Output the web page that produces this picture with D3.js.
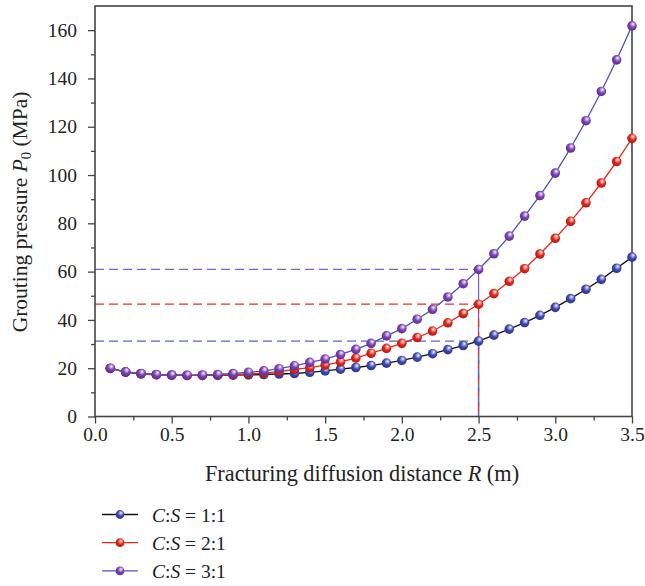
<!DOCTYPE html>
<html><head><meta charset="utf-8">
<script src="https://cdn.jsdelivr.net/npm/d3@7"></script>
<style>body{margin:0;background:#fff}svg{display:block}text{font-family:"Liberation Serif","Times New Roman",serif;fill:#222}</style>
</head><body>
<svg id="c" width="645" height="586"></svg>
<script>
const xs = [0.1,0.2,0.3,0.4,0.5,0.6,0.7,0.8,0.9,1.0,1.1,1.2,1.3,1.4,1.5,1.6,1.7,1.8,1.9,2.0,2.1,2.2,2.3,2.4,2.5,2.6,2.7,2.8,2.9,3.0,3.1,3.2,3.3,3.4,3.5];
const cs11 = [19.9,18.4,17.7,17.3,17.1,17.0,17.0,17.0,17.1,17.2,17.4,17.6,17.8,18.3,18.9,19.6,20.3,21.1,22.1,23.2,24.6,26.0,27.7,29.4,31.2,33.7,36.2,38.9,41.9,45.2,48.8,52.7,56.8,61.4,66.0];
const cs21 = [19.9,18.4,17.7,17.3,17.1,17.0,17.0,17.1,17.3,17.6,18.0,18.6,19.5,20.2,21.3,22.6,24.2,26.2,28.2,30.3,32.7,35.4,38.8,42.6,46.5,50.9,56.0,61.2,67.3,73.8,80.8,88.5,96.7,105.6,115.2];
const cs31 = [20.0,18.5,17.8,17.4,17.2,17.1,17.2,17.4,17.8,18.3,18.9,19.8,21.0,22.4,23.8,25.7,27.8,30.3,33.4,36.4,40.3,44.4,49.5,55.0,60.9,67.4,74.7,83.0,91.5,100.8,111.2,122.5,134.6,147.7,161.8];
const seriesNames = ["1:1","2:1","3:1"];
const xTicks = [0,0.5,1.0,1.5,2.0,2.5,3.0,3.5];
const yTicks = [0,20,40,60,80,100,120,140,160];
const refX = 2.5;

const svg = d3.select("#c");
const L=95, R=632, T=6, B=416.5;
const x = d3.scaleLinear().domain([0,3.5]).range([L,R]);
const y = d3.scaleLinear().domain([0,170]).range([B,T]);

const defs = svg.append("defs");
const styles = [
  {data:cs11, line:"#111", ball:"#3d47b3", dash:"#5b64c9", id:"g1"},
  {data:cs21, line:"#e6261c", ball:"#e3261c", dash:"#e8311f", id:"g2"},
  {data:cs31, line:"#4853bf", ball:"#7b40b8", dash:"#8060cc", id:"g3"}
];
styles.forEach(s=>{
  const g = defs.append("radialGradient").attr("id",s.id).attr("cx","55%").attr("cy","40%").attr("r","60%").attr("fx","62%").attr("fy","30%");
  g.append("stop").attr("offset","0%").attr("stop-color","#fff");
  g.append("stop").attr("offset","25%").attr("stop-color",d3.interpolateRgb("#fff",s.ball)(0.5));
  g.append("stop").attr("offset","55%").attr("stop-color",s.ball);
  g.append("stop").attr("offset","100%").attr("stop-color",d3.color(s.ball).darker(0.8));
});

// dashed reference lines
const refIdx = xs.indexOf(refX);
styles.forEach(s=>{
  const v = s.data[refIdx];
  svg.append("line").attr("x1",x(0)).attr("x2",x(refX)).attr("y1",y(v)).attr("y2",y(v))
    .attr("stroke",s.dash).attr("stroke-width",1.3).attr("stroke-dasharray","9,5");
});
[2,1,0].forEach(i=>{
  const s=styles[i]; const v=s.data[refIdx];
  svg.append("line").attr("x1",x(refX)).attr("x2",x(refX)).attr("y1",y(v)).attr("y2",y(0))
    .attr("stroke",s.dash).attr("stroke-width",1.3).attr("stroke-dasharray", i===2?null:"9,5");
});

// axes
const ax = svg.append("g").attr("transform",`translate(0,${B})`)
  .call(d3.axisBottom(x).tickValues(xTicks).tickFormat(d3.format(".1f")).tickSize(7).tickPadding(4));
const axm = svg.append("g").attr("transform",`translate(0,${B})`)
  .call(d3.axisBottom(x).tickValues(d3.range(0.25,3.5,0.5)).tickFormat("").tickSize(4));
const ay = svg.append("g").attr("transform",`translate(${L},0)`)
  .call(d3.axisLeft(y).tickValues(yTicks).tickSize(7).tickPadding(11));
const aym = svg.append("g").attr("transform",`translate(${L},0)`)
  .call(d3.axisLeft(y).tickValues(d3.range(10,170,20)).tickFormat("").tickSize(4));
[ax,axm,ay,aym].forEach(a=>{
  a.selectAll(".domain").remove();
  a.selectAll("line").attr("stroke","#444").attr("stroke-width",1.3);
  a.selectAll("text").attr("font-size",19.5).attr("fill","#222").style("font-family",'"Liberation Serif",serif');
});
// frame
svg.append("rect").attr("x",L).attr("y",T).attr("width",R-L).attr("height",B-T)
  .attr("fill","none").attr("stroke","#444").attr("stroke-width",1.6);

// series
const lineGen = d3.line().x((d,i)=>x(xs[i])).y(d=>y(d));
styles.forEach(s=>{
  svg.append("path").datum(s.data).attr("d",lineGen).attr("fill","none").attr("stroke",s.line).attr("stroke-width",1.3);
});
styles.forEach(s=>{
  svg.append("g").selectAll("circle").data(s.data).join("circle")
    .attr("cx",(d,i)=>x(xs[i])).attr("cy",d=>y(d)).attr("r",4.8).attr("fill",`url(#${s.id})`);
});

// axis titles
const xt = svg.append("text").attr("x",362).attr("y",481).attr("text-anchor","middle").attr("font-size",22.3);
xt.append("tspan").text("Fracturing diffusion distance ");
xt.append("tspan").attr("font-style","italic").text("R");
xt.append("tspan").text(" (m)");
const yt = svg.append("text").attr("transform","translate(27,212) rotate(-90)").attr("text-anchor","middle").attr("font-size",21.5);
yt.append("tspan").text("Grouting pressure ");
yt.append("tspan").attr("font-style","italic").text("P");
yt.append("tspan").attr("font-size",14.5).attr("dy",4).text("0");
yt.append("tspan").attr("dy",-4).text(" (MPa)");

// legend
styles.forEach((s,i)=>{
  const ly = 514.5 + i*28.2;
  svg.append("line").attr("x1",102).attr("x2",138).attr("y1",ly).attr("y2",ly).attr("stroke",s.line).attr("stroke-width",1.3);
  svg.append("circle").attr("cx",120).attr("cy",ly).attr("r",4.4).attr("fill",`url(#${s.id})`);
  const t = svg.append("text").attr("x",152).attr("y",ly+7).attr("font-size",19.5);
  t.append("tspan").attr("font-style","italic").text("C");
  t.append("tspan").text(":");
  t.append("tspan").attr("font-style","italic").text("S");
  t.append("tspan").text(" = " + seriesNames[i]);
});
</script>
</body></html>
